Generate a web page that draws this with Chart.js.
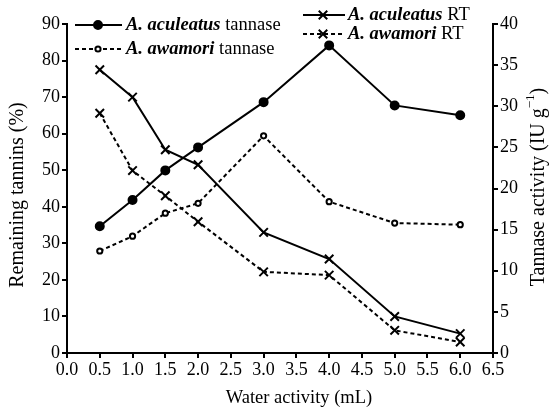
<!DOCTYPE html>
<html>
<head>
<meta charset="utf-8">
<script src="https://cdn.jsdelivr.net/npm/chart.js@4/dist/chart.umd.min.js"></script>
<style>
html,body{margin:0;padding:0;background:#fff;}
#wrap{width:549px;height:411px;position:relative;}
</style>
</head>
<body>
<div id="wrap"><canvas id="c" width="549" height="411"></canvas></div>
<script>
// ---- data ----
const waterActivity = [0.5, 1.0, 1.5, 2.0, 3.0, 4.0, 5.0, 6.0];
const aculeatusTannase = [15.4, 18.6, 22.2, 25.0, 30.5, 37.4, 30.1, 28.9];   // IU g-1 (right axis)
const awamoriTannase   = [12.4, 14.2, 17.0, 18.2, 26.4, 18.4, 15.8, 15.6];   // IU g-1 (right axis)
const aculeatusRT      = [77.5, 70.0, 55.6, 51.5, 33.0, 25.7, 10.0, 5.3];    // % (left axis)
const awamoriRT        = [65.6, 49.9, 43.0, 35.9, 22.2, 21.3, 6.2, 3.0];     // % (left axis)
const xTitle = "Water activity (mL)";
const yLeftTitle = "Remaining tannins (%)";
const yRightTitle = "Tannase activity (IU g";
const legendItems = [
  {species: "A. aculeatus", suffix: " tannase"},
  {species: "A. awamori", suffix: " tannase"},
  {species: "A. aculeatus", suffix: " RT"},
  {species: "A. awamori", suffix: " RT"}
];

const FONT = "'Liberation Serif', 'DejaVu Serif', serif";
const pts = arr => arr.map((v, i) => ({x: waterActivity[i], y: v}));

const styles = [
  {pointStyle: 'circle', radius: 4, bg: '#000', dash: [], bw: 2},
  {pointStyle: 'circle', radius: 2.6, bg: '#fff', dash: [4, 3], bw: 2},
  {pointStyle: 'crossRot', radius: 6, bg: '#000', dash: [], bw: 2},
  {pointStyle: 'crossRot', radius: 6, bg: '#000', dash: [4, 3], bw: 2}
];

function ds(label, data, axis, st) {
  return {
    label, data: pts(data), yAxisID: axis,
    borderColor: '#000', backgroundColor: st.bg,
    borderWidth: 2, borderDash: st.dash,
    pointStyle: st.pointStyle, pointRadius: st.radius,
    pointBorderColor: '#000', pointBackgroundColor: st.bg,
    pointBorderWidth: 2, tension: 0, fill: false
  };
}

const legendPlugin = {
  id: 'customLegend',
  afterDraw(chart) {
    const ctx = chart.ctx;
    ctx.save();
    const rows = [
      {x0: 75, x1: 122, mx: 98, tx: 126, y: 25, idx: 0},
      {x0: 75, x1: 122, mx: 98, tx: 126, y: 49, idx: 1},
      {x0: 303, x1: 345, mx: 323, tx: 348, y: 15, idx: 2},
      {x0: 303, x1: 345, mx: 323, tx: 348, y: 34, idx: 3}
    ];
    rows.forEach(r => {
      const st = styles[r.idx];
      ctx.strokeStyle = '#000';
      ctx.lineWidth = 2;
      ctx.setLineDash(st.dash);
      ctx.beginPath(); ctx.moveTo(r.x0, r.y); ctx.lineTo(r.x1, r.y); ctx.stroke();
      ctx.setLineDash([]);
      ctx.fillStyle = st.bg;
      Chart.helpers.drawPoint(ctx, {pointStyle: st.pointStyle, radius: st.radius, borderWidth: 2, rotation: 0}, r.mx, r.y);
      ctx.fillStyle = '#000';
      ctx.textBaseline = 'middle';
      ctx.textAlign = 'left';
      const it = legendItems[r.idx];
      ctx.font = "italic bold 18.5px " + FONT;
      ctx.fillText(it.species, r.tx, r.y);
      const w = ctx.measureText(it.species).width;
      ctx.font = "18.5px " + FONT;
      ctx.fillText(it.suffix, r.tx + w, r.y);
    });

    // axis titles
    ctx.fillStyle = '#000';
    ctx.font = "18.5px " + FONT;
    ctx.textAlign = 'center';
    ctx.textBaseline = 'middle';
    ctx.fillText(xTitle, 299, 398);

    ctx.save();
    ctx.translate(18, 195);
    ctx.rotate(-Math.PI / 2);
    ctx.font = "20px " + FONT;
    ctx.fillText(yLeftTitle, 0, 0);
    ctx.restore();

    ctx.save();
    ctx.translate(539, 187);
    ctx.rotate(-Math.PI / 2);
    ctx.font = "20px " + FONT;
    const wMain = ctx.measureText(yRightTitle).width;
    ctx.font = "13px " + FONT;
    const wSup = ctx.measureText("\u22121").width;
    ctx.font = "20px " + FONT;
    const wEnd = ctx.measureText(")").width;
    const total = wMain + wSup + wEnd;
    let x = -total / 2;
    ctx.textAlign = 'left';
    ctx.fillText(yRightTitle, x, 0);
    x += wMain;
    ctx.font = "13px " + FONT;
    ctx.fillText("\u22121", x, -8);
    x += wSup;
    ctx.font = "20px " + FONT;
    ctx.fillText(")", x, 0);
    ctx.restore();
    ctx.restore();
  }
};

const tickFont = {family: FONT, size: 18};
new Chart(document.getElementById('c'), {
  type: 'line',
  data: {
    datasets: [
      ds(legendItems[0].species + legendItems[0].suffix, aculeatusTannase, 'y1', styles[0]),
      ds(legendItems[1].species + legendItems[1].suffix, awamoriTannase, 'y1', styles[1]),
      ds(legendItems[2].species + legendItems[2].suffix, aculeatusRT, 'y', styles[2]),
      ds(legendItems[3].species + legendItems[3].suffix, awamoriRT, 'y', styles[3])
    ]
  },
  options: {
    responsive: false,
    animation: false,
    layout: {padding: {top: 24, left: 0, right: 0, bottom: 0}},
    plugins: {legend: {display: false}, tooltip: {enabled: false}},
    scales: {
      x: {
        type: 'linear', min: 0, max: 6.5,
        afterFit: s => { s.height = 58; },
        ticks: {stepSize: 0.5, autoSkip: false, maxRotation: 0, color: '#000', font: tickFont, padding: 1,
                callback: v => Number(v).toFixed(1)},
        grid: {display: true, drawOnChartArea: false, drawTicks: true, tickLength: 5, color: '#000', lineWidth: 2},
        border: {display: true, color: '#000', width: 2}
      },
      y: {
        type: 'linear', position: 'left', min: 0, max: 90,
        afterFit: s => { s.width = 67; },
        ticks: {stepSize: 10, color: '#000', font: tickFont, padding: 2},
        grid: {display: true, drawOnChartArea: false, drawTicks: true, tickLength: 5, color: '#000', lineWidth: 2},
        border: {display: true, color: '#000', width: 2}
      },
      y1: {
        type: 'linear', position: 'right', min: 0, max: 40,
        afterFit: s => { s.width = 56; },
        ticks: {stepSize: 5, color: '#000', font: tickFont, padding: 2},
        grid: {display: true, drawOnChartArea: false, drawTicks: true, tickLength: 5, color: '#000', lineWidth: 2},
        border: {display: true, color: '#000', width: 2}
      }
    }
  },
  plugins: [legendPlugin]
});
</script>
</body>
</html>
